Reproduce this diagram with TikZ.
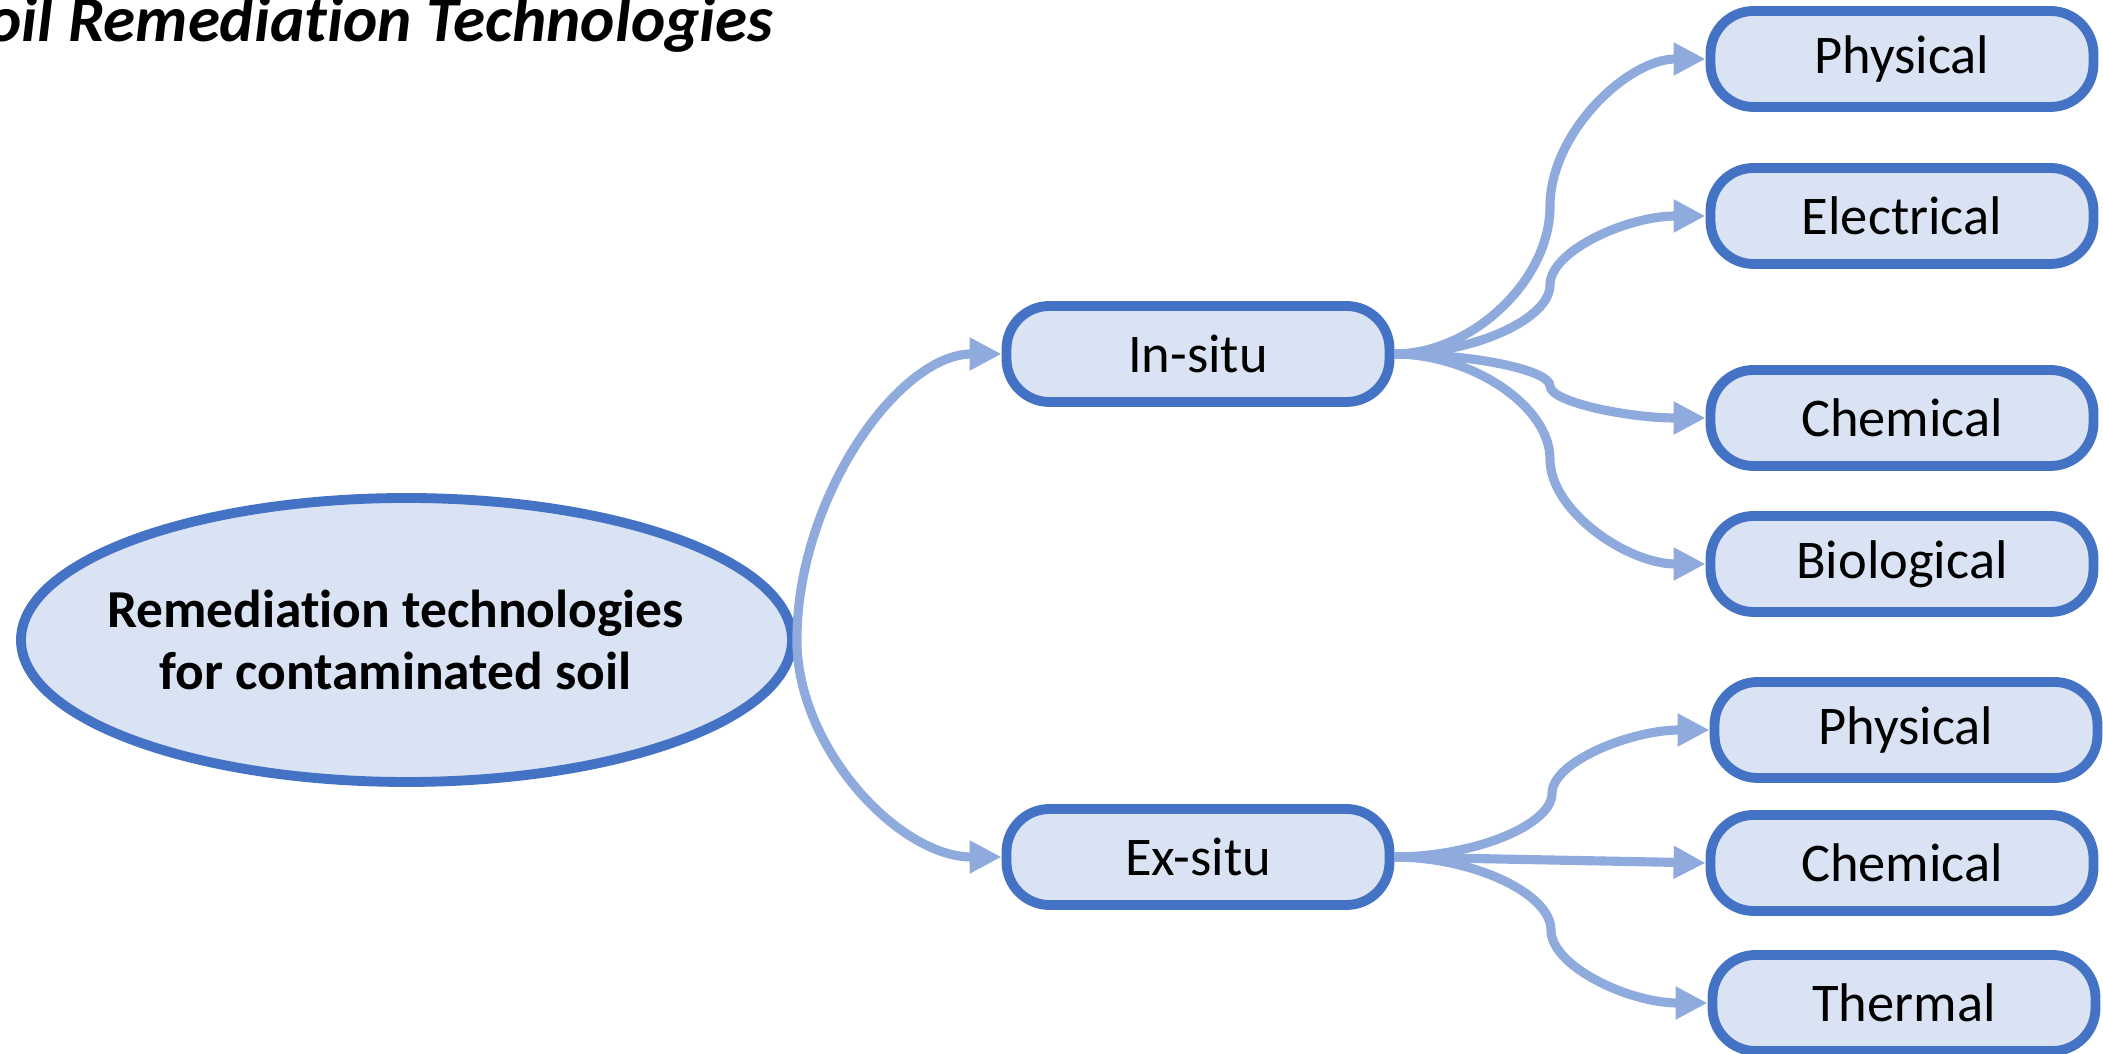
\documentclass[tikz,border=0pt]{standalone}
\usepackage{fontspec}
\setmainfont{Carlito}[Ligatures=NoCommon]
\usepackage{xcolor}
\usepackage{tikz}
\usetikzlibrary{positioning, shapes, arrows.meta, calc}

\definecolor{boxline}{HTML}{4472C4}
\definecolor{boxfill}{HTML}{DAE3F3}
\definecolor{linkline}{HTML}{8FAADC}

\begin{document}
\begin{tikzpicture}[
    box/.style={draw=boxline, fill=boxfill, line width=2.8pt, rounded corners=0.43cm,
      minimum width=3.83cm, minimum height=0.96cm, font=\fontsize{15.5}{18}\selectfont},
    root/.style={draw=boxline, fill=boxfill, line width=2.8pt, ellipse,
      minimum width=7.71cm, minimum height=2.84cm, inner sep=0pt},
    link/.style={draw=linkline, line width=2.6pt, -{Triangle[length=0.32cm, width=0.31cm]}},
    sbend/.style={to path={let \p1=(\tikztostart), \p2=(\tikztotarget) in
      .. controls ({0.75*\x1+0.25*\x2},\y1) and ({0.5*\x1+0.5*\x2},{0.75*\y1+0.25*\y2})
      .. ({0.5*\x1+0.5*\x2},{0.5*\y1+0.5*\y2})
      .. controls ({0.5*\x1+0.5*\x2},{0.25*\y1+0.75*\y2}) and ({0.25*\x1+0.75*\x2},\y2)
      .. (\p2) \tikztonodes}},
    elbow/.style={to path={let \p1=(\tikztostart), \p2=(\tikztotarget) in
      .. controls (\x1,{0.5*\y1+0.5*\y2}) and ({0.5*\x1+0.5*\x2},\y2) .. (\p2) \tikztonodes}}
  ]
  \useasboundingbox (0,0) rectangle (21.03,10.54);

  % Title
  \node[font=\fontsize{18.5}{22}\selectfont\bfseries\itshape, anchor=base east, inner sep=0pt]
    (title) at (7.74,10.12) {Soil Remediation Technologies};

  % Root
  \node[root] (root) at (4.065,4.14) {};
  \node[font=\fontsize{15.2}{17.8}\selectfont\bfseries, align=center, xshift=-0.11cm]
    (roottext) at (root) {Remediation technologies\\for contaminated soil};

  % Two approaches
  \node[box] (insitu) at (11.98,7.00) {In-situ};
  \node[box] (exsitu) at (11.98,1.97) {Ex-situ};

  % In-situ methods
  \node[box] (inphys) at (19.02,9.95) {Physical};
  \node[box] (inelec) at (19.02,8.38) {Electrical};
  \node[box] (inchem) at (19.02,6.36) {Chemical};
  \node[box] (inbio) at (19.02,4.90) {Biological};

  % Ex-situ methods
  \node[box] (exphys) at (19.06,3.24) {Physical};
  \node[box] (exchem) at (19.02,1.91) {Chemical};
  \node[box] (exther) at (19.04,0.51) {Thermal};

  % Connectors
  \draw[link, elbow] (root.east) to (insitu.west);
  \draw[link, elbow] (root.east) to (exsitu.west);

  \draw[link, sbend] (insitu.east) to (inphys.west);
  \draw[link, sbend] (insitu.east) to (inelec.west);
  \draw[link, sbend] (insitu.east) to (inchem.west);
  \draw[link, sbend] (insitu.east) to (inbio.west);

  \draw[link, sbend] (exsitu.east) to (exphys.west);
  \draw[link] (exsitu.east) -- (exchem.west);
  \draw[link, sbend] (exsitu.east) to (exther.west);
\end{tikzpicture}
\end{document}
